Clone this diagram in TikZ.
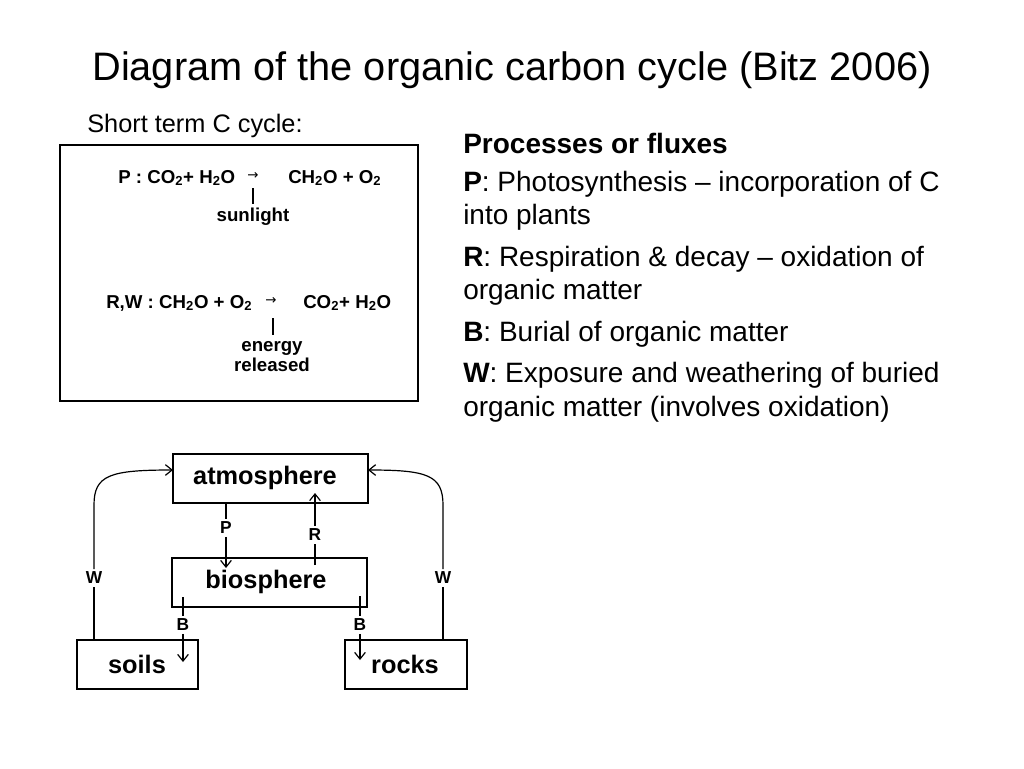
\documentclass[tikz,border=0pt]{standalone}
\usepackage{fontspec}
\setmainfont{Liberation Sans}
\newfontfamily\dvs{DejaVu Sans}
\usetikzlibrary{arrows.meta}
\newcommand{\sub}[1]{\textsubscript{#1}}
\begin{document}
\begin{tikzpicture}[x=0.75pt,y=-0.75pt,
  lbl/.style={font=\bfseries\fontsize{19}{22}\selectfont},
  small/.style={font=\bfseries\fontsize{13}{15}\selectfont,inner sep=2pt},
  eq/.style={font=\fontsize{14}{16}\selectfont\bfseries,inner sep=0},
  para/.style={anchor=west,inner sep=0,font=\fontsize{21}{24}\selectfont},
  flow/.style={line width=0.9pt},
  tip/.style={-{Straight Barb[length=5pt,width=8pt]}}]
\useasboundingbox (0,0) rectangle (1024,768);
\node[inner sep=0,font=\fontsize{29.8}{32}\selectfont] (title) at (512,70) {Diagram of the organic carbon cycle (Bitz 2006)};
\node[para,font=\fontsize{19}{22}\selectfont] (st) at (87,126) {Short term C cycle:};
% equation box
\draw[line width=2.2pt] (60,145) rectangle (418,401);
\node[eq,anchor=west] (p1) at (118,178) {P : CO\sub{2}+ H\sub{2}O};
\node[eq,font=\dvs\fontsize{10}{12}\selectfont] (pa) at (253,176) {→};
\node[eq,anchor=west] (p2) at (288,178) {CH\sub{2}O + O\sub{2}};
\coordinate (pt1) at (253,188); \coordinate (pt2) at (253,204);
\draw[line width=0.8pt] (pt1) -- (pt2);
\node[eq] (sun) at (253,217) {sunlight};
\node[eq,anchor=west] (r1) at (106,303) {R,W : CH\sub{2}O + O\sub{2}};
\node[eq,font=\dvs\fontsize{10}{12}\selectfont] (ra) at (271,301) {→};
\node[eq,anchor=west] (r2) at (303,303) {CO\sub{2}+ H\sub{2}O};
\coordinate (rt1) at (273,318); \coordinate (rt2) at (273,335);
\draw[line width=0.8pt] (rt1) -- (rt2);
\node[eq,align=center,font=\fontsize{14}{15}\selectfont\bfseries] (en) at (272,357) {energy\\released};
% right paragraphs
\node[para,font=\bfseries\fontsize{21}{24}\selectfont] (h) at (463,143) {Processes or fluxes};
\node[para] (t1) at (463,184) {\textbf{P}: Photosynthesis – incorporation of C};
\node[para] (t2) at (463,217) {into plants};
\node[para] (t3) at (463,259) {\textbf{R}: Respiration \& decay – oxidation of};
\node[para] (t4) at (463,292) {organic matter};
\node[para] (t5) at (463,334) {\textbf{B}: Burial of organic matter};
\node[para] (t6) at (463,375) {\textbf{W}: Exposure and weathering of buried};
\node[para] (t7) at (463,409) {organic matter (involves oxidation)};
% cycle diagram
\draw[line width=0.9pt] (173,454) rectangle (368,503);
\node[lbl] (atm) at (265,478) {atmosphere};
\draw[line width=0.9pt] (172,558) rectangle (367,607);
\node[lbl] (bio) at (266,582) {biosphere};
\draw[line width=0.9pt] (77,640) rectangle (198,689);
\node[lbl] (soil) at (137,664) {soils};
\draw[line width=0.9pt] (345,640) rectangle (467,689);
\node[lbl] (rock) at (405,664) {rocks};
% P
\node[small] (P) at (226,528) {P};
\draw[flow] (226,503) -- (P.north);
\draw[flow,tip] (P.south) -- (226,568);
% R
\node[small] (R) at (315,535) {R};
\draw[flow] (315,565) -- (R.south);
\draw[flow,tip] (R.north) -- (315,493);
% B
\node[small] (B1) at (183,625) {B};
\draw[flow] (183,597) -- (B1.north);
\draw[flow,tip] (B1.south) -- (183,662);
\node[small] (B2) at (360,625) {B};
\draw[flow] (360,596) -- (B2.north);
\draw[flow,tip] (B2.south) -- (360,660);
% W
\node[small] (W1) at (94,578) {W};
\draw[flow] (94,640) -- (W1.south);
\draw[flow,tip] (W1.north) -- (94,505) .. controls (94,475) and (110,470) .. (173,470);
\node[small] (W2) at (443,578) {W};
\draw[flow] (443,640) -- (W2.south);
\draw[flow,tip] (W2.north) -- (443,505) .. controls (443,475) and (427,470) .. (368,470);
\end{tikzpicture}
\end{document}
